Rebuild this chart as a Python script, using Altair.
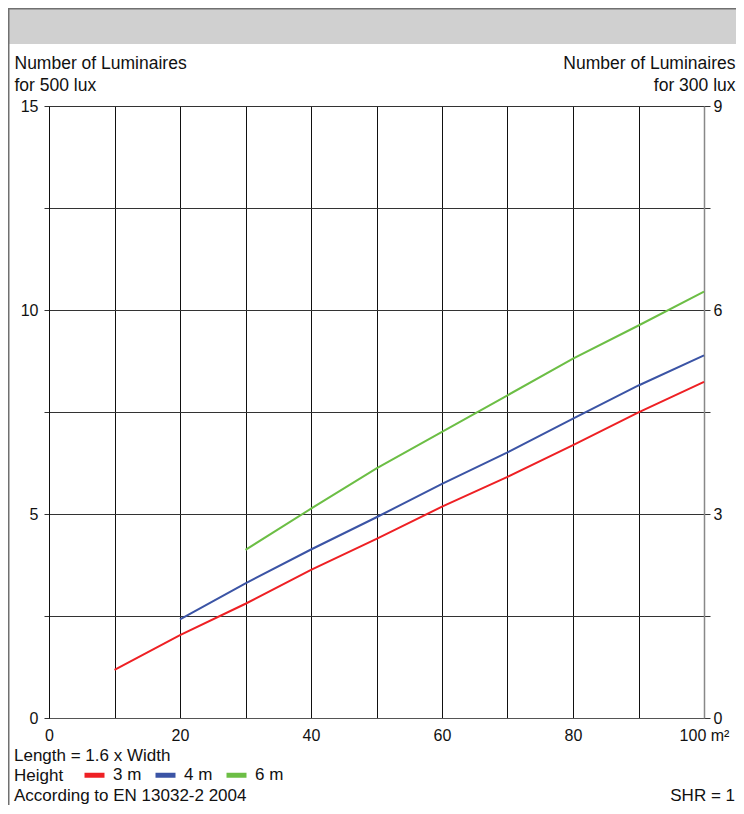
import altair as alt
import pandas as pd

# ---- data ----
area_3m = [10, 20, 30, 40, 50, 60, 70, 80, 90, 100]
lum_3m = [1.18, 2.03, 2.80, 3.63, 4.39, 5.18, 5.91, 6.69, 7.49, 8.24]
area_4m = [20, 30, 40, 50, 60, 70, 80, 90, 100]
lum_4m = [2.42, 3.30, 4.13, 4.92, 5.74, 6.51, 7.34, 8.15, 8.89]
area_6m = [30, 40, 50, 60, 70, 80, 90, 100]
lum_6m = [4.12, 5.13, 6.12, 7.01, 7.91, 8.81, 9.62, 10.45]

heights = ["3 m", "4 m", "6 m"]
colors = ["#ee2024", "#3b54a5", "#6cbe45"]

x_ticks = list(range(0, 101, 10))
y_ticks_500 = [0, 2.5, 5, 7.5, 10, 12.5, 15]
y_ticks_300 = [0, 1.5, 3, 4.5, 6, 7.5, 9]

title_500 = ["Number of Luminaires", "for 500 lux"]
title_300 = ["Number of Luminaires", "for 300 lux"]
legend_title = "Height"
notes = ["Length = 1.6 x Width", "According to EN 13032-2 2004", "SHR = 1"]

rows = []
for h, xs, ys in zip(heights, [area_3m, area_4m, area_6m], [lum_3m, lum_4m, lum_6m]):
    for a, n in zip(xs, ys):
        rows.append({"height": h, "area": a, "n500": n, "n300": n * 9 / 15})
df = pd.DataFrame(rows)

FONT = "Liberation Sans"
TXT = "#111111"
FS = 17.5
FSB = 17
W, H = 655, 612
PL, PT, PR, PB = 41, 98, 32, 87

x_scale = alt.Scale(domain=[0, 100], nice=False, zero=True)

lines = alt.Chart(df).mark_line(strokeWidth=2).encode(
    x=alt.X(
        "area:Q",
        scale=x_scale,
        axis=alt.Axis(
            values=x_ticks,
            labelExpr="datum.value == 100 ? '100 m²' : (datum.value % 20 == 0 ? datum.label : '')",
            grid=True, gridColor="#111111", gridWidth=1,
            ticks=False, tickSize=0,
            domain=True, domainColor="#555555", domainWidth=1.2,
            labelPadding=9, labelFlush=False, labelOverlap=False, labelBound=False,
            labelFontSize=16, labelColor=TXT, title=None,
        ),
    ),
    y=alt.Y(
        "n500:Q",
        scale=alt.Scale(domain=[0, 15], nice=False),
        axis=alt.Axis(
            values=y_ticks_500,
            labelExpr="datum.value % 5 == 0 ? datum.label : ''",
            grid=True, gridColor="#333333", gridWidth=1,
            tickSize=5, tickColor="#333333",
            domainColor="#111111",
            labelPadding=6, labelFontSize=16, labelColor=TXT,
            title=title_500, titleAngle=0, titleAlign="left", titleBaseline="alphabetic",
            titleX=-35, titleY=-38, titleFontSize=FS, titleFontWeight="normal",
            titleLineHeight=22.5, titleColor=TXT,
        ),
    ),
    color=alt.Color(
        "height:N",
        scale=alt.Scale(domain=heights, range=colors),
        legend=alt.Legend(
            orient="none", legendX=33, legendY=656.5, direction="horizontal",
            title=None,
            symbolType="stroke", symbolStrokeWidth=5, symbolSize=400,
            labelFontSize=FSB, labelColor=TXT, labelOffset=6, columnPadding=3,
            padding=0, rowPadding=0,
        ),
    ),
)

right = alt.Chart(df).mark_line(opacity=0).encode(
    x=alt.X("area:Q", scale=x_scale),
    y=alt.Y(
        "n300:Q",
        scale=alt.Scale(domain=[0, 9], nice=False),
        axis=alt.Axis(
            orient="right", values=y_ticks_300,
            labelExpr="datum.value % 3 == 0 ? datum.label : ''",
            grid=False, tickSize=6, tickColor="#333333",
            domainColor="#888888", domainWidth=1.5,
            labelPadding=3, labelFontSize=16, labelColor=TXT,
            title=title_300, titleAngle=0, titleAlign="right", titleBaseline="alphabetic",
            titleX=31, titleY=-38, titleFontSize=FS, titleFontWeight="normal",
            titleLineHeight=22.5, titleColor=TXT,
        ),
    ),
    detail="height:N",
)

one = pd.DataFrame({"k": [0]})
header = alt.Chart(one).mark_rect(color="#d0d0d0").encode(
    x=alt.value(-PL), x2=alt.value(W + PR), y=alt.value(-PT), y2=alt.value(-62)
)
top_border = alt.Chart(one).mark_rule(color="#707070", strokeWidth=1.5).encode(
    x=alt.value(-PL), x2=alt.value(W + PR), y=alt.value(-PT + 0.75)
)
left_border = alt.Chart(one).mark_rule(color="#707070", strokeWidth=1.5).encode(
    x=alt.value(-PL + 0.75), y=alt.value(-PT), y2=alt.value(H + PB)
)

def note(text, x, y, align):
    return alt.Chart(one).mark_text(
        align=align, baseline="alphabetic", fontSize=FSB, font=FONT, color=TXT
    ).encode(x=alt.value(x), y=alt.value(y), text=alt.value(text))

note1 = note(notes[0], -35, 655, "left")
note_h = note(legend_title, -35, 675, "left")
note2 = note(notes[1], -35, 695, "left")
note3 = note(notes[2], W + 31, 695, "right")

chart = alt.layer(
    header, top_border, left_border, lines, right, note1, note_h, note2, note3
).resolve_scale(
    y="independent"
).properties(
    width=W, height=H,
    autosize=alt.AutoSizeParams(type="none"),
    padding={"left": PL, "top": PT, "right": PR, "bottom": PB},
).configure_view(stroke=None).configure_axis(
    labelFont=FONT, titleFont=FONT
).configure_legend(labelFont=FONT, titleFont=FONT)

chart.save("out.html", embed_options={"renderer": "svg", "actions": False})
